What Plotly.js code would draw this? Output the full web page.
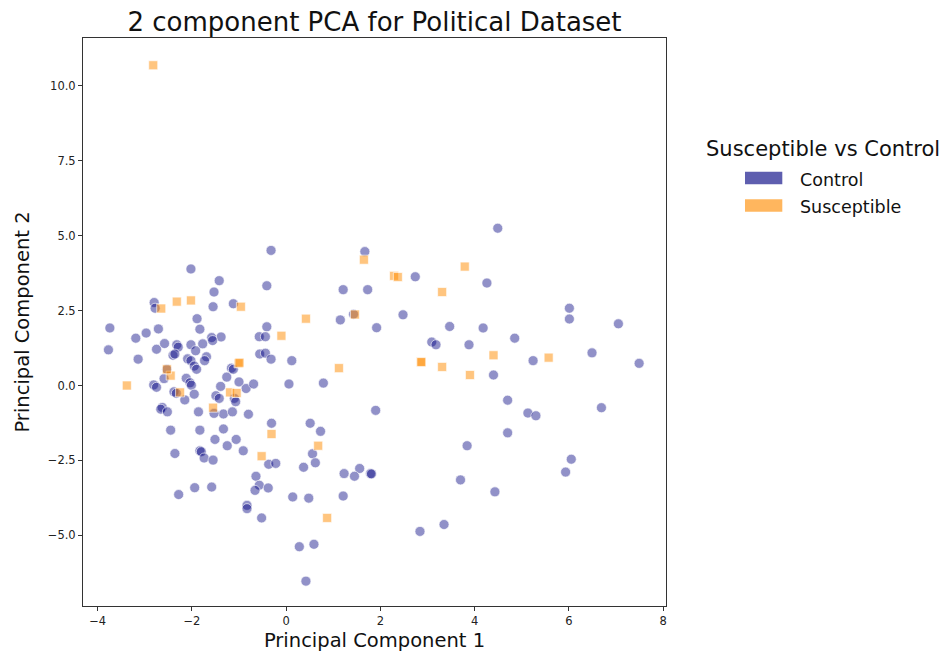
<!DOCTYPE html>
<html>
<head>
<meta charset="utf-8">
<script src="https://cdn.plot.ly/plotly-3.0.1.min.js"></script>
<style>html,body{margin:0;padding:0;background:#fff;}#chart{width:946px;height:658px;}</style>
</head>
<body>
<div id="chart"></div>
<script>
// Series: Control (principal component 1 / 2)
const controlPC1 = [
-0.32,-2.02,-1.42,-0.41,-1.53,-2.80,-2.78,-1.55,-1.12,-1.89,
-3.74,-1.83,-2.71,-2.97,-3.19,-0.41,-0.57,-0.44,-1.38,-1.58,
-1.56,-2.58,-2.32,-2.29,-2.02,-1.77,-2.75,-3.77,-2.40,-2.36,
-2.09,-2.02,-1.92,-1.69,-1.73,-3.14,-0.56,-0.44,-0.32,-1.95,
-1.90,-1.16,-1.12,-2.53,-1.26,-2.12,-2.04,-2.01,-2.59,-2.81,
-2.75,-2.38,-2.33,-1.95,-2.15,-1.39,-1.00,-0.85,-0.69,-1.49,
-1.42,-1.10,-1.07,-2.63,-2.66,-2.52,-1.86,-1.33,-1.14,-0.80,
-1.53,-0.31,-2.45,-1.83,-1.33,-1.51,-1.06,-1.25,-0.91,-1.83,
-1.80,-2.36,-1.74,-1.55,-0.37,-0.22,-0.64,-0.57,-0.66,-0.38,
-1.94,-1.58,-2.28,-0.83,-0.83,-0.52,
1.67,2.74,1.21,1.73,1.15,1.43,2.48,1.92,3.47,3.09,
3.18,0.12,0.06,0.79,1.90,0.51,0.73,0.56,0.62,0.37,
1.23,1.56,1.45,1.79,1.81,0.14,0.48,1.21,2.84,3.35,
0.28,0.59,0.42,
4.49,4.26,6.01,6.01,7.05,4.18,4.85,3.88,5.24,6.49,
7.49,4.40,4.70,5.13,5.30,6.69,4.70,3.84,6.05,5.93,
3.70,4.43
];
const controlPC2 = [
4.51,3.89,3.50,3.33,3.12,2.77,2.58,2.63,2.73,2.23,
1.92,1.88,1.89,1.75,1.58,1.96,1.63,1.63,1.62,1.60,
1.50,1.40,1.36,1.28,1.36,1.39,1.21,1.19,1.01,1.05,
0.89,0.83,1.16,0.96,0.83,0.88,1.05,1.08,0.88,0.65,
0.54,0.58,0.54,0.54,0.28,0.24,0.09,0.01,0.23,0.02,
-0.06,-0.21,-0.26,-0.29,-0.48,-0.03,0.12,-0.10,0.05,-0.34,
-0.43,-0.43,-0.54,-0.73,-0.79,-0.88,-0.88,-0.95,-0.88,-0.96,
-0.93,-1.26,-1.49,-1.49,-1.45,-1.80,-1.80,-2.01,-2.18,-2.18,
-2.21,-2.27,-2.42,-2.49,-2.63,-2.60,-3.03,-3.33,-3.50,-3.42,
-3.41,-3.39,-3.64,-4.00,-4.11,-4.42,
4.47,3.63,3.20,3.20,2.19,2.38,2.36,1.93,1.97,1.45,
1.36,0.83,0.05,0.08,-0.83,-1.26,-1.53,-2.28,-2.58,-2.73,
-2.94,-2.77,-3.03,-2.94,-2.95,-3.72,-3.76,-3.69,-4.87,-4.64,
-5.38,-5.30,-6.53,
5.25,3.42,2.58,2.22,2.06,1.92,1.58,1.36,0.83,1.09,
0.74,0.35,-0.49,-0.92,-1.01,-0.74,-1.58,-2.01,-2.46,-2.89,
-3.15,-3.55
];
// Series: Susceptible (principal component 1 / 2)
const susceptiblePC1 = [
-2.82,-2.65,-2.32,-2.02,-0.96,-0.10,-1.01,-0.99,-2.45,-2.53,
-3.38,-2.25,-1.19,-1.05,-1.55,-0.31,-0.52,1.65,2.29,2.37,
3.31,0.42,1.46,1.12,2.86,2.87,3.31,0.68,0.87,3.79,
4.40,5.57,3.90
];
const susceptiblePC2 = [
10.69,2.57,2.80,2.84,2.63,1.66,0.74,0.76,0.33,0.54,
0.00,-0.23,-0.23,-0.25,-0.74,-1.62,-2.36,4.20,3.66,3.62,
3.12,2.23,2.37,0.58,0.79,0.78,0.62,-2.01,-4.42,3.97,
1.01,0.93,0.35
];
const groupNames = ["Control", "Susceptible"];
const legendTitle = "Susceptible vs Control";
const xTicks = [-4, -2, 0, 2, 4, 6, 8];
const yTicks = [-5, -2.5, 0, 2.5, 5, 7.5, 10];

const FONT = "DejaVu Sans, sans-serif";
const traces = [
  {
    type: "scatter", mode: "markers", name: groupNames[0],
    x: controlPC1, y: controlPC2,
    marker: {symbol: "circle", size: 10, color: "rgba(0,0,128,0.43)",
             line: {color: "rgba(255,255,255,0.8)", width: 0.8}},
    showlegend: false, hoverinfo: "x+y+name"
  },
  {
    type: "scatter", mode: "markers", name: groupNames[1],
    x: susceptiblePC1, y: susceptiblePC2,
    marker: {symbol: "square", size: 9, color: "rgba(255,140,0,0.5)",
             line: {color: "rgba(255,255,255,0.8)", width: 0.8}},
    showlegend: false, hoverinfo: "x+y+name"
  }
];

const axisCommon = {
  showgrid: false, zeroline: false, showline: true, mirror: true,
  linecolor: "#333", linewidth: 1, ticks: "outside", ticklen: 4,
  tickcolor: "#333", tickfont: {family: FONT, size: 11.5, color: "#222"}
};

const layout = {
  width: 946, height: 658,
  margin: {l: 83, r: 280, t: 38, b: 52},
  paper_bgcolor: "#fff", plot_bgcolor: "#fff",
  title: {text: "2 component PCA for Political Dataset",
          font: {family: FONT, size: 26, color: "#111"},
          x: (83 + 583 / 2) / 946, xanchor: "center", y: 0.966, yanchor: "middle"},
  xaxis: Object.assign({}, axisCommon, {
    range: [-4.31, 8.06], tickvals: xTicks,
    title: {text: "Principal Component 1", font: {family: FONT, size: 19.5, color: "#111"}, standoff: 6}
  }),
  yaxis: Object.assign({}, axisCommon, {
    range: [-7.36, 11.6], tickvals: yTicks, tickformat: ".1f",
    title: {text: "Principal Component 2", font: {family: FONT, size: 19.5, color: "#111"}, standoff: 12}
  }),
  showlegend: false,
  shapes: [
    {type: "rect", xref: "paper", yref: "paper", x0: 1.1355, x1: 1.1995, y0: 0.7424, y1: 0.7646,
     fillcolor: "rgba(0,0,128,0.63)", line: {width: 0}},
    {type: "rect", xref: "paper", yref: "paper", x0: 1.1355, x1: 1.1995, y0: 0.694, y1: 0.716,
     fillcolor: "rgba(255,140,0,0.63)", line: {width: 0}}
  ],
  annotations: [
    {text: legendTitle, xref: "paper", yref: "paper", x: 1.066, y: 0.8037,
     xanchor: "left", yanchor: "middle", showarrow: false,
     font: {family: FONT, size: 21, color: "#111"}},
    {text: groupNames[0], xref: "paper", yref: "paper", x: 1.2269, y: 0.7504,
     xanchor: "left", yanchor: "middle", showarrow: false,
     font: {family: FONT, size: 17.5, color: "#111"}},
    {text: groupNames[1], xref: "paper", yref: "paper", x: 1.2269, y: 0.7016,
     xanchor: "left", yanchor: "middle", showarrow: false,
     font: {family: FONT, size: 17.5, color: "#111"}}
  ]
};

Plotly.newPlot("chart", traces, layout, {displayModeBar: false, staticPlot: true});
</script>
</body>
</html>
